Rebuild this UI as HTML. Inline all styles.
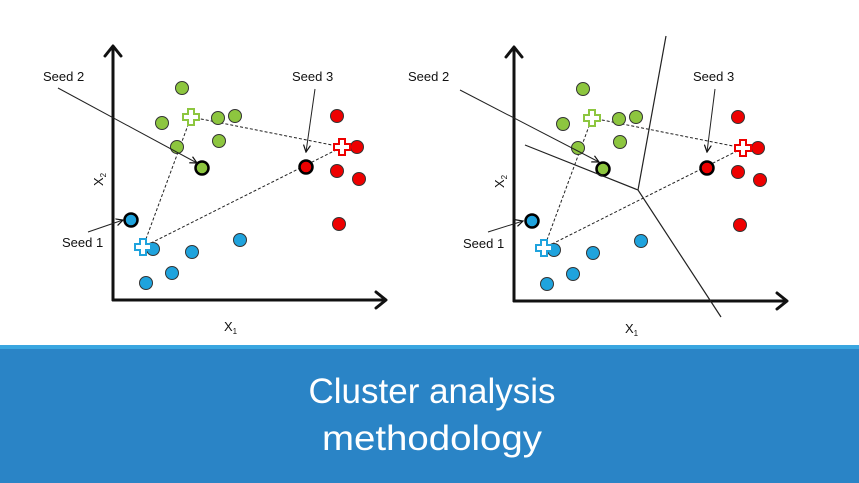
<!DOCTYPE html>
<html><head><meta charset="utf-8"><style>
html,body{margin:0;padding:0;background:#fff;}
svg{display:block}
</style></head><body>
<svg width="859" height="483" viewBox="0 0 859 483" xmlns="http://www.w3.org/2000/svg" font-family="Liberation Sans, sans-serif">
<defs>
<marker id="ah" markerWidth="8" markerHeight="8" refX="7" refY="4" orient="auto" markerUnits="userSpaceOnUse">
<path d="M0,0.5 L7,4 L0,7.5" fill="none" stroke="#111" stroke-width="1.2"/>
</marker>
<g id="cross"><path d="M-3,-8 h6 v5 h5 v6 h-5 v5 h-6 v-5 h-5 v-6 h5z" fill="#fff" stroke-width="2"/></g>
</defs>
<rect width="859" height="345" fill="#fff"/>
<rect y="345" width="859" height="4" fill="#3aa6e0"/>
<rect y="349" width="859" height="134" fill="#2a84c6"/>
<text x="432" y="403" fill="#fff" font-size="35" text-anchor="middle" textLength="247" lengthAdjust="spacingAndGlyphs">Cluster analysis</text>
<text x="432" y="450" fill="#fff" font-size="35" text-anchor="middle" textLength="220" lengthAdjust="spacingAndGlyphs">methodology</text>

<!-- LEFT PLOT -->
<g id="plotL">
<g stroke="#111" stroke-width="3" fill="none" stroke-linecap="round" stroke-linejoin="round">
<path d="M113,300 V47 M105,56 L113,46 L121,56"/>
<path d="M113,300 H385 M376,292 L386,300 L376,308"/>
</g>
<g stroke="#222" stroke-width="1" stroke-dasharray="3,2" fill="none">
<path d="M191,117 L342,147 L143,247 Z"/>
</g>
<g fill="#8dc63f" stroke="#333" stroke-width="1">
<circle cx="182" cy="88" r="6.5"/><circle cx="162" cy="123" r="6.5"/><circle cx="218" cy="118" r="6.5"/>
<circle cx="235" cy="116" r="6.5"/><circle cx="219" cy="141" r="6.5"/><circle cx="177" cy="147" r="6.5"/>
<circle cx="202" cy="168" r="6.5" stroke="#000" stroke-width="2.5"/>
</g>
<g fill="#ee0000" stroke="#333" stroke-width="1">
<circle cx="337" cy="116" r="6.5"/><circle cx="357" cy="147" r="6.5"/><circle cx="337" cy="171" r="6.5"/>
<circle cx="359" cy="179" r="6.5"/><circle cx="339" cy="224" r="6.5"/>
<circle cx="306" cy="167" r="6.5" stroke="#000" stroke-width="2.5"/>
</g>
<g fill="#1fa3dd" stroke="#333" stroke-width="1">
<circle cx="153" cy="249" r="6.5"/><circle cx="192" cy="252" r="6.5"/><circle cx="240" cy="240" r="6.5"/>
<circle cx="172" cy="273" r="6.5"/><circle cx="146" cy="283" r="6.5"/>
<circle cx="131" cy="220" r="6.5" stroke="#000" stroke-width="2.5"/>
</g>
<use href="#cross" x="191" y="117" stroke="#8dc63f"/>
<use href="#cross" x="342" y="147" stroke="#ee0000"/>
<use href="#cross" x="143" y="247" stroke="#1fa3dd"/>
</g>
<g fill="none" stroke="#222" stroke-width="1" marker-end="url(#ah)">
<path d="M58,88 L197,163"/>
<path d="M315,89 L306,152"/>
<path d="M88,232 L123,220"/>
</g>
<g font-size="13" fill="#111">
<text x="43" y="81">Seed 2</text>
<text x="292" y="81">Seed 3</text>
<text x="62" y="247">Seed 1</text>
<text x="224" y="331">X<tspan font-size="8" dy="3">1</tspan></text>
<text transform="translate(103,186) rotate(-90)">X<tspan font-size="8" dy="3">2</tspan></text>
</g>

<!-- RIGHT PLOT -->
<g transform="translate(401,1)">
<use href="#plotL"/>
</g>
<g fill="none" stroke="#222" stroke-width="1.2">
<path d="M666,36 L638,190 L721,317 M525,145 L638,190"/>
</g>
<g fill="none" stroke="#222" stroke-width="1" marker-end="url(#ah)">
<path d="M460,90 L599,162"/>
<path d="M715,89 L707,152"/>
<path d="M488,232 L523,221"/>
</g>
<g font-size="13" fill="#111">
<text x="408" y="81">Seed 2</text>
<text x="693" y="81">Seed 3</text>
<text x="463" y="248">Seed 1</text>
<text x="625" y="333">X<tspan font-size="8" dy="3">1</tspan></text>
<text transform="translate(504,188) rotate(-90)">X<tspan font-size="8" dy="3">2</tspan></text>
</g>
</svg>
</body></html>
